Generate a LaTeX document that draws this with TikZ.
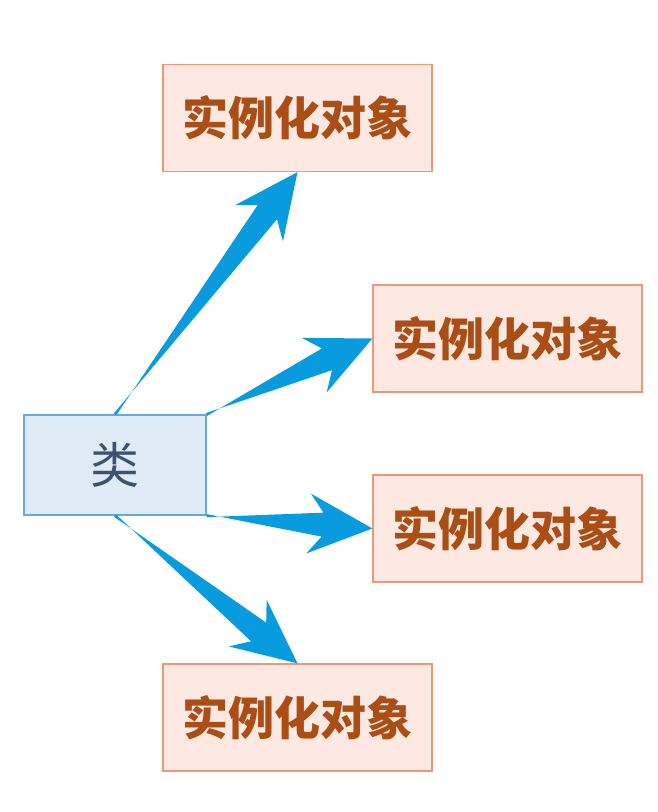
\documentclass[tikz,border=0pt]{standalone}
\usepackage{fontspec}
\newfontfamily\cjk{Noto Sans CJK SC}
\usetikzlibrary{calc}
\definecolor{objfill}{RGB}{253,232,226}
\definecolor{objline}{RGB}{238,150,120}
\definecolor{objtext}{RGB}{170,78,22}
\definecolor{clsfill}{RGB}{224,235,248}
\definecolor{clsline}{RGB}{105,168,222}
\definecolor{clstext}{RGB}{62,82,112}
\definecolor{arrblue}{RGB}{8,155,222}
\newcommand{\fatarrow}[2]{%
\fill[arr] ($(#1)!1.5pt!90:(#2)$) -- ($(#2)!50pt!(#1)!12pt!-90:(#2)$) -- ($(#2)!64pt!(#1)!30pt!-90:(#2)$) -- (#2) -- ($(#2)!64pt!(#1)!30pt!90:(#2)$) -- ($(#2)!50pt!(#1)!12pt!90:(#2)$) -- ($(#1)!1.5pt!-90:(#2)$) -- cycle;}

\begin{document}
\begin{tikzpicture}[x=1pt,y=-1pt,
obj/.style = {draw=objline, fill=objfill, line width=1.2pt, minimum width=269pt, minimum height=107pt, text=objtext, font=\cjk\bfseries\fontsize{46}{52}\selectfont},
cls/.style = {draw=clsline, fill=clsfill, line width=1.2pt, minimum width=182pt, minimum height=100pt, text=clstext, font=\cjk\fontsize{49}{54}\selectfont},
arr/.style = {fill=arrblue}]
\useasboundingbox (0,0) rectangle (658,812);
\node[cls] (c) at (115,465) {类};
\node[obj] (1) at (297.5,118) {实例化对象};
\node[obj] (2) at (507.5,338.5) {实例化对象};
\node[obj] (3) at (507.5,528.5) {实例化对象};
\node[obj] (4) at (297.5,717.5) {实例化对象};
\fatarrow{c.north}{1.south}
\fatarrow{c.north east}{2.west}
\fatarrow{c.south east}{3.west}
\fatarrow{c.south}{4.north}
\end{tikzpicture}
\end{document}
